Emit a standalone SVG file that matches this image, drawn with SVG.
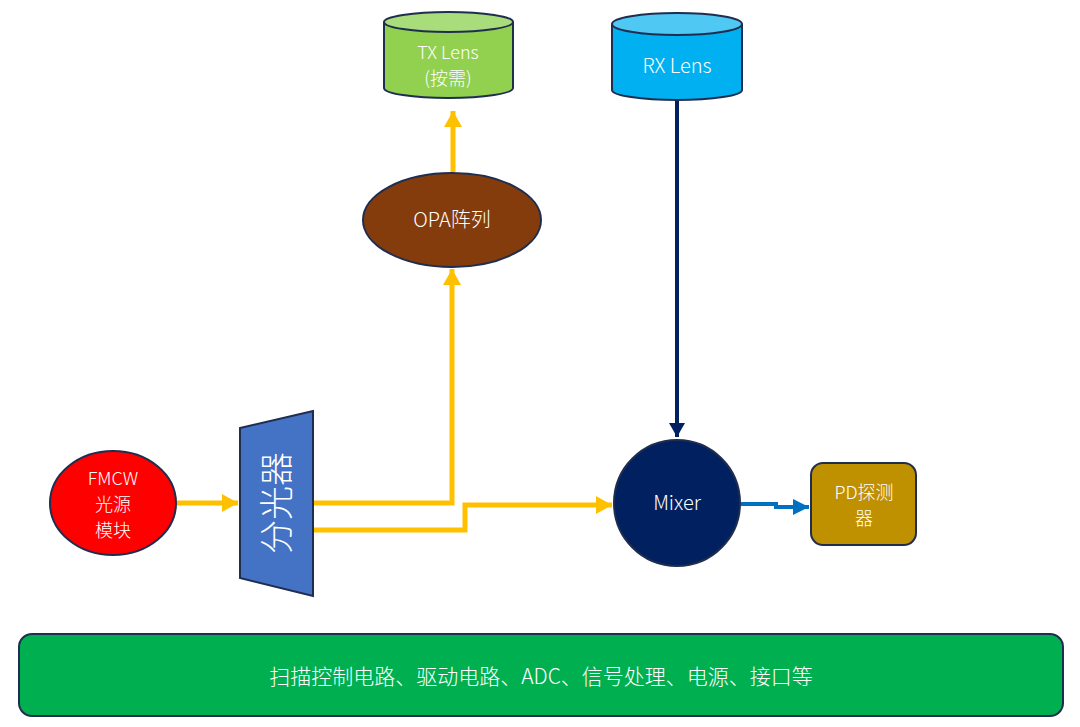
<svg xmlns="http://www.w3.org/2000/svg" width="1080" height="727" viewBox="0 0 1080 727">
<style>
text{font-family:"Noto Sans CJK SC","Noto Sans",sans-serif;fill:#fff;text-anchor:middle;font-weight:300}
.lbl{font-size:20px}
.ml{font-size:18px}
.node{stroke:#1F2D4F;stroke-width:2}
.y{stroke:#FFC000;stroke-width:5;fill:none}
</style>
<defs>
<marker id="ay" markerUnits="userSpaceOnUse" markerWidth="16" markerHeight="18" refX="16" refY="9" orient="auto"><path d="M0,0L16,9L0,18Z" fill="#FFC000"/></marker>
<marker id="an" markerUnits="userSpaceOnUse" markerWidth="14" markerHeight="16" refX="14" refY="8" orient="auto"><path d="M0,0L14,8L0,16Z" fill="#002060"/></marker>
<marker id="ab" markerUnits="userSpaceOnUse" markerWidth="16" markerHeight="16" refX="16" refY="8" orient="auto"><path d="M0,0L16,8L0,16Z" fill="#0070C0"/></marker>
</defs>
<rect width="1080" height="727" fill="#fff"/>
<g id="connectors">
<path class="y" d="M177,503H238" marker-end="url(#ay)"/>
<path class="y" d="M314,503H452V269" marker-end="url(#ay)"/>
<path class="y" d="M314,530H465V505H612" marker-end="url(#ay)"/>
<path class="y" d="M453,172V111" marker-end="url(#ay)"/>
<path d="M677,101V437" stroke="#002060" stroke-width="4" fill="none" marker-end="url(#an)"/>
<path d="M741,504H776V507H809" stroke="#0070C0" stroke-width="4" fill="none" marker-end="url(#ab)"/>
</g>
<g id="tx-lens">
<path class="node" d="M384,22V88A64.5,10 0 0 0 513,88V22" fill="#92D050"/>
<ellipse class="node" cx="448.5" cy="22" rx="64.5" ry="10" fill="#A9DC7A"/>
<text class="ml" x="448" y="59">TX Lens</text>
<text class="ml" x="448" y="85">(按需)</text>
</g>
<g id="rx-lens">
<path class="node" d="M612,24V90A65,10 0 0 0 742,90V24" fill="#00B0F0"/>
<ellipse class="node" cx="677" cy="24" rx="65" ry="11" fill="#4FC8F4"/>
<text class="lbl" x="677" y="73">RX Lens</text>
</g>
<g id="opa">
<ellipse class="node" cx="452" cy="220" rx="89" ry="47" fill="#843C0C"/>
<text class="lbl" x="452" y="227">OPA阵列</text>
</g>
<g id="fmcw">
<ellipse class="node" cx="113" cy="503" rx="63" ry="52" fill="#FF0000"/>
<text class="ml" x="113" y="485">FMCW</text>
<text class="ml" x="113" y="511">光源</text>
<text class="ml" x="113" y="537">模块</text>
</g>
<g id="splitter">
<path class="node" d="M240,428L313,411V596L240,578Z" fill="#4472C4"/>
<text x="0" y="0" font-size="34" transform="translate(289,503) rotate(-90)">分光器</text>
</g>
<g id="mixer">
<circle class="node" cx="677" cy="503" r="63" fill="#002060"/>
<text class="lbl" x="677" y="510">Mixer</text>
</g>
<g id="pd">
<rect class="node" x="811" y="463" width="105" height="82" rx="12" fill="#BF9000"/>
<text class="ml" x="864" y="499">PD探测</text>
<text class="ml" x="864" y="525">器</text>
</g>
<g id="bottom-bar">
<rect class="node" x="19" y="634" width="1044" height="82" rx="13" fill="#00B050"/>
<text x="541" y="684" font-size="21">扫描控制电路、驱动电路、ADC、信号处理、电源、接口等</text>
</g>
</svg>
